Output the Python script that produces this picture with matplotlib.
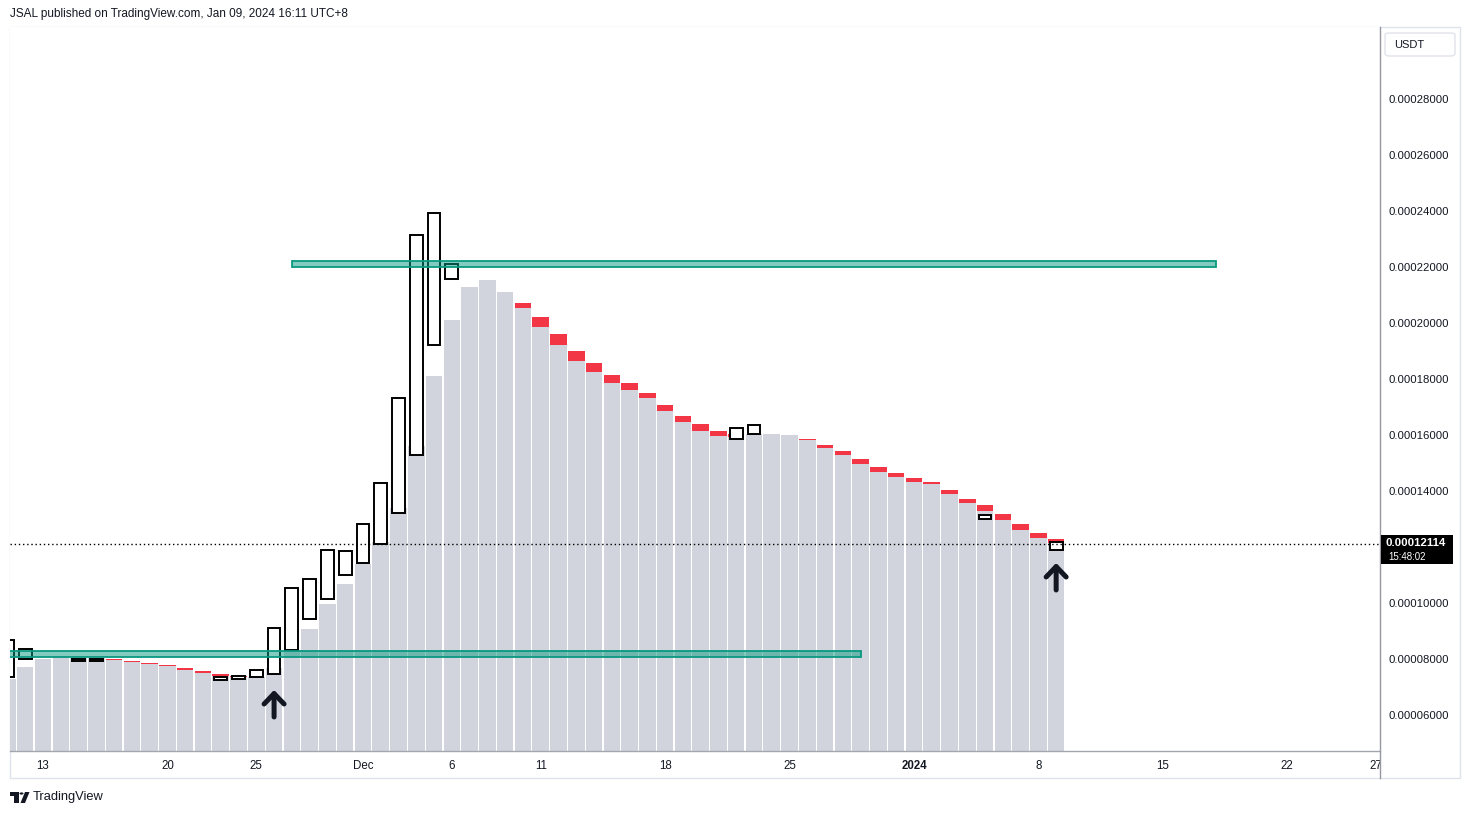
import matplotlib
matplotlib.use("Agg")
import matplotlib.pyplot as plt
import matplotlib.patches as mpatches
from matplotlib.transforms import Bbox
import numpy as np
import pandas as pd

plt.rcParams['font.family'] = ['Liberation Sans', 'DejaVu Sans']

# ---------------- data ----------------
dates = pd.date_range('2023-11-11', '2024-01-09', freq='D')

# grey column level per day
grey_vals = [
    0.00007286, 0.00007714, 0.00008000, 0.00008107, 0.00008036, 0.00008036, 0.00007964,
    0.00007893, 0.00007821, 0.00007750, 0.00007607, 0.00007500, 0.00007393, 0.00007357,
    0.00007357, 0.00007679, 0.00008321, 0.00009071, 0.00009964, 0.00010679, 0.00011393,
    0.00012179, 0.00013393, 0.00015607, 0.00018107, 0.00020107, 0.00021286, 0.00021536,
    0.00021107, 0.00020536, 0.00019857, 0.00019214, 0.00018643, 0.00018250, 0.00017857,
    0.00017607, 0.00017321, 0.00016857, 0.00016464, 0.00016143, 0.00015964, 0.00015929,
    0.00016036, 0.00016036, 0.00016000, 0.00015821, 0.00015536, 0.00015286, 0.00014964,
    0.00014679, 0.00014500, 0.00014321, 0.00014250, 0.00013893, 0.00013571, 0.00013286,
    0.00012964, 0.00012607, 0.00012321, 0.00012143,
]

# red cap top per day (None = no red cap)
red_tops = [
    None, None, None, None, None, None, 0.00008000,
    0.00007929, 0.00007857, 0.00007786, 0.00007679, 0.00007571, 0.00007464, 0.00007393,
    None, None, None, None, None, None, None,
    None, None, None, None, None, None, None,
    None, 0.00020714, 0.00020214, 0.00019607, 0.00019000, 0.00018571, 0.00018143,
    0.00017857, 0.00017500, 0.00017071, 0.00016679, 0.00016393, 0.00016143, 0.00016036,
    None, None, None, 0.00015857, 0.00015643, 0.00015429, 0.00015143,
    0.00014857, 0.00014643, 0.00014464, 0.00014321, 0.00014036, 0.00013714, 0.00013500,
    0.00013179, 0.00012821, 0.00012500, 0.00012286,
]

# hollow candles: date, open (bottom), close (top)
candle_dates = ['2023-11-11', '2023-11-12', '2023-11-15', '2023-11-16', '2023-11-23',
                '2023-11-24', '2023-11-25', '2023-11-26', '2023-11-27', '2023-11-28',
                '2023-11-29', '2023-11-30', '2023-12-01', '2023-12-02', '2023-12-03',
                '2023-12-04', '2023-12-05', '2023-12-06', '2023-12-22', '2023-12-23',
                '2024-01-05', '2024-01-09']
candle_open = [0.00007357, 0.00008000, 0.00007929, 0.00007929, 0.00007250,
               0.00007286, 0.00007357, 0.00007464, 0.00008321, 0.00009429,
               0.00010143, 0.00011000, 0.00011429, 0.00012107, 0.00013214,
               0.00015286, 0.00019214, 0.00021571, 0.00015857, 0.00016036,
               0.00013000, 0.00011893]
candle_close = [0.00008679, 0.00008357, 0.00008000, 0.00008000, 0.00007357,
                0.00007393, 0.00007607, 0.00009107, 0.00010536, 0.00010857,
                0.00011893, 0.00011857, 0.00012821, 0.00014286, 0.00017321,
                0.00023143, 0.00023929, 0.00022107, 0.00016250, 0.00016357,
                0.00013143, 0.00012179]

# horizontal zones (drawings)
zone_start = ['2023-11-05', '2023-11-27']
zone_end = ['2023-12-29', '2024-01-18']
zone_low = [0.00008071, 0.00022000]
zone_high = [0.00008286, 0.00022214]

# arrows
arrow_dates = ['2023-11-26', '2024-01-09']
arrow_tip = [0.00006893, 0.00011429]
arrow_tail = [0.00005929, 0.00010464]

last_price = 0.00012114

tick_dates = ['2023-11-13', '2023-11-20', '2023-11-25', '2023-12-01', '2023-12-06',
              '2023-12-11', '2023-12-18', '2023-12-25', '2024-01-01', '2024-01-08',
              '2024-01-15', '2024-01-22', '2024-01-27']
tick_labels = ['13', '20', '25', 'Dec', '6', '11', '18', '25', '2024', '8', '15', '22', '27']
# 0.00012 label is covered by the last-price tag in the reference
price_ticks = [0.00006, 0.00008, 0.00010, 0.00014, 0.00016,
               0.00018, 0.00020, 0.00022, 0.00024, 0.00026, 0.00028]

# ---------------- helpers ----------------
base = pd.Timestamp('2023-11-13')
def dnum(s):
    if isinstance(s, str):
        s = [s]
    idx = pd.DatetimeIndex(pd.to_datetime(list(s)))
    return np.asarray((idx - base).days, dtype=float)

W, H = 1470, 815
fig = plt.figure(figsize=(W / 100, H / 100), dpi=100)
fig.patch.set_facecolor('white')

def fx(px):
    return px / W
def fy(py):
    return 1 - py / H

TXT = '#131722'

# chart container frame
fig.add_artist(mpatches.Rectangle((fx(10), fy(778)), fx(1450), (778 - 27) / H,
                                  transform=fig.transFigure, fill=False,
                                  edgecolor='#e0e3eb', lw=1.0, zorder=0))

ax = fig.add_axes([fx(10), fy(751), 1370 / W, 724 / H])
ax.set_facecolor('white')
ax.set_xlim(-1.857, 75.22)
ax.set_ylim(0.00004714, 0.0003057)

x = dnum(dates)
g = np.array(grey_vals)
ax.bar(x, g, width=0.93, color='#d1d4dc', zorder=1, linewidth=0)

mask = np.array([r is not None for r in red_tops])
rt = np.array([r if r is not None else 0 for r in red_tops], dtype=float)
ax.bar(x[mask], rt[mask] - g[mask], bottom=g[mask], width=0.93,
       color='#f23645', zorder=1.2, linewidth=0)

cx = dnum(candle_dates)
co = np.array(candle_open)
cc = np.array(candle_close)
ax.bar(cx, cc - co, bottom=co, width=0.72, facecolor='white',
       edgecolor='black', linewidth=1.4, zorder=3)

for s, e, lo, hi in zip(zone_start, zone_end, zone_low, zone_high):
    x0 = dnum(s)[0]
    x1 = dnum(e)[0]
    ax.add_patch(mpatches.Rectangle((x0, lo), x1 - x0, hi - lo,
                                    facecolor=(8 / 255, 153 / 255, 129 / 255, 0.5),
                                    edgecolor='#089981', lw=1.3, zorder=4))

ax.axhline(last_price, color='black', lw=1.0, ls=(0, (1, 2)), zorder=5)

for d, tip, tail in zip(arrow_dates, arrow_tip, arrow_tail):
    xd = dnum(d)[0]
    ax.annotate('', xy=(xd, tip), xytext=(xd, tail),
                arrowprops=dict(arrowstyle='->,head_length=0.75,head_width=0.72',
                                lw=3.6, color='#131722', capstyle='round',
                                joinstyle='round', shrinkA=0, shrinkB=0),
                zorder=6)

for sp in ['top', 'left', 'right']:
    ax.spines[sp].set_visible(False)
ax.spines['bottom'].set_color('#a3a6af')
ax.spines['bottom'].set_linewidth(1.0)

ax.yaxis.tick_right()
ax.set_yticks(price_ticks)
ax.set_yticklabels([f'{v:.8f}' for v in price_ticks])
ax.tick_params(axis='y', length=0, pad=5.8, labelsize=8.2, labelcolor=TXT)

ax.set_xticks(dnum(tick_dates))
ax.set_xticklabels(tick_labels)
ax.tick_params(axis='x', length=0, pad=6.5, labelsize=8.3, labelcolor=TXT)
for t in ax.get_xticklabels():
    if t.get_text() == '2024':
        t.set_fontweight('bold')
last_tick = ax.xaxis.get_major_ticks()[-1]
last_tick.label1.set_clip_on(True)
last_tick.label1.set_clip_box(Bbox([[0, 0], [1380, H]]))

# price scale separator
fig.add_artist(plt.Line2D([fx(1380), fx(1380)], [fy(27), fy(778)],
                          transform=fig.transFigure, color='#9598a1', lw=1.0, zorder=5))

# currency box
fig.add_artist(mpatches.FancyBboxPatch((fx(1385), fy(56)), 70 / W, 23 / H,
                                       boxstyle='round,pad=0,rounding_size=0.003',
                                       transform=fig.transFigure, facecolor='white',
                                       edgecolor='#e0e3eb', lw=1.0, zorder=5))
fig.text(fx(1394), fy(44.5), 'USDT', fontsize=8.0, color=TXT, va='center', ha='left', zorder=6)

# last price label
fig.add_artist(mpatches.Rectangle((fx(1381), fy(564)), 72 / W, 29 / H,
                                  transform=fig.transFigure, facecolor='black',
                                  edgecolor='none', zorder=7))
fig.text(fx(1386), fy(543.5), f'{last_price:.8f}', fontsize=8.2, color='white',
         fontweight='bold', va='center', ha='left', zorder=8)
fig.text(fx(1388), fy(557.5), '15:48:02', fontsize=7.0, color='white',
         va='center', ha='left', zorder=8)

# header
fig.text(fx(10), fy(14), 'JSAL published on TradingView.com, Jan 09, 2024 16:11 UTC+8',
         fontsize=8.5, color=TXT, va='center', ha='left')

# footer logo + text
logo_col = '#131722'
fig.add_artist(mpatches.Rectangle((fx(10), fy(795.5)), 9 / W, 4 / H,
                                  transform=fig.transFigure, color=logo_col, lw=0))
fig.add_artist(mpatches.Rectangle((fx(14.5), fy(803)), 4.5 / W, 11 / H,
                                  transform=fig.transFigure, color=logo_col, lw=0))
fig.add_artist(mpatches.Circle((fx(21.5), fy(793.5)), 2 / W,
                               transform=fig.transFigure, color=logo_col, lw=0))
fig.add_artist(mpatches.Polygon([(fx(25), fy(792)), (fx(29.5), fy(792)),
                                 (fx(25), fy(803)), (fx(20.5), fy(803))],
                                closed=True, transform=fig.transFigure,
                                color=logo_col, lw=0))
fig.text(fx(33), fy(797), 'TradingView', fontsize=9.3, color=TXT, va='center', ha='left')

fig.savefig('out.png', dpi=100, facecolor='white')
